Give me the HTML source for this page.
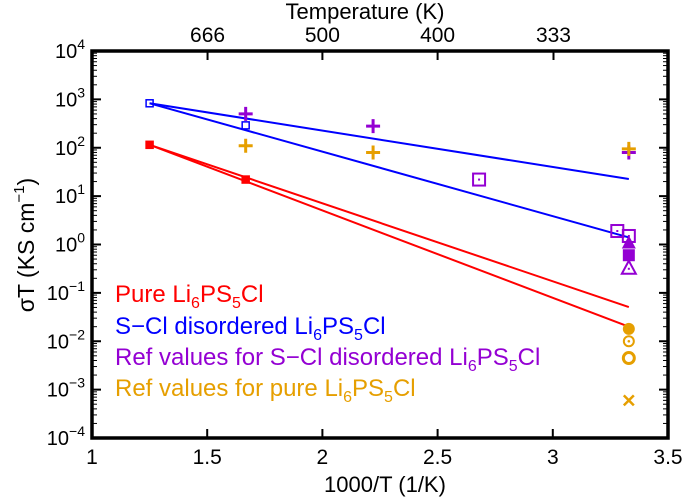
<!DOCTYPE html>
<html><head><meta charset="utf-8"><style>
body{margin:0;background:#fff}
svg text{font-family:"Liberation Sans",sans-serif}
</style></head><body>
<svg id="c" width="685" height="499" xmlns="http://www.w3.org/2000/svg"></svg>
<script>
const lineStarts=[1.25,1.25,1.25,1.25];
const lineEnds=[3.33,3.33,3.33,3.33];
const lineStartVals=[830,830,115,115];
const lineEndVals=[22.6,1.4,0.051,0.02];
const lineColors=['#0000ff','#0000ff','#ff0000','#ff0000'];
const lineNames=['blue-line-upper','blue-line-lower','red-line-upper','red-line-lower'];
const simX=[1.25,1.667,1.25,1.667];
const simY=[830,290,115,22];
const refPurpleX=[1.667,2.22,3.33,2.68,3.28,3.33,3.33,3.33,3.33];
const refPurpleY=[500,280,80,22,1.9,1.5,1.1,0.6,0.33];
const refPurpleShape=['plus','plus','plus','osq','osq','osq','ftri','fsq','otri'];
const refOrangeX=[1.667,2.22,3.33,3.33,3.33,3.33,3.33];
const refOrangeY=[110,80,95,0.018,0.01,0.0045,0.0006];
const refOrangeShape=['plus','plus','plus','fcirc','dcirc','ocirc','x'];
const xTicks=[1,1.5,2,2.5,3,3.5];
const xTickLabels=['1','1.5','2','2.5','3','3.5'];
const topTemps=[666,500,400,333];
const yExps=[4,3,2,1,0,-1,-2,-3,-4];

const L=92,R=668,T=51,B=438;
const sx=v=>L+(v-1)/(3.5-1)*(R-L);
const sy=v=>T+(4-Math.log10(v))/8*(B-T);
const svg=document.getElementById('c');
const NS='http://www.w3.org/2000/svg';
function mk(tag,attrs,parent){const e=document.createElementNS(NS,tag);for(const k in attrs)e.setAttribute(k,attrs[k]);(parent||svg).appendChild(e);return e;}

let fr=mk('rect',{x:L,y:T,width:R-L,height:B-T,fill:'none',stroke:'#000','stroke-width':3.5});



yExps.forEach(e=>{
  const y=sy(Math.pow(10,e));
  mk('line',{x1:L,x2:L+9,y1:y,y2:y,stroke:'#000','stroke-width':2});
  mk('line',{x1:R,x2:R-9,y1:y,y2:y,stroke:'#000','stroke-width':2});
  if(e>-4){for(let m=2;m<10;m++){const yy=sy(m*Math.pow(10,e-1));mk('line',{x1:L,x2:L+5,y1:yy,y2:yy,stroke:'#000','stroke-width':1});mk('line',{x1:R,x2:R-5,y1:yy,y2:yy,stroke:'#000','stroke-width':1});}}
  const t=mk('text',{x:L-7,y:y+7,'text-anchor':'end','font-size':20});
  
  
  t.innerHTML='10<tspan dy="-9" font-size="14">'+(e<0?'\u2212'+(-e):e)+'</tspan>';
});
xTicks.forEach((v,i)=>{
  const x=sx(v);
  mk('line',{x1:x,x2:x,y1:B,y2:B-9,stroke:'#000','stroke-width':2});
  const t=mk('text',{x:x,y:B+26,'text-anchor':'middle','font-size':21});
  
  
  t.textContent=xTickLabels[i];
});
topTemps.forEach(T0=>{
  const x=sx(1000/T0);
  mk('line',{x1:x,x2:x,y1:T,y2:T+9,stroke:'#000','stroke-width':2});
  const t=mk('text',{x:x,y:T-9,'text-anchor':'middle','font-size':21});
  
  
  t.textContent=T0;
});
let t1=mk('text',{x:385,y:492,'text-anchor':'middle','font-size':22});
t1.textContent='1000/T (1/K)';
let t2=mk('text',{x:365,y:19,'text-anchor':'middle','font-size':22});
t2.textContent='Temperature (K)';
let t3=mk('text',{x:0,y:0,'text-anchor':'middle','font-size':23,transform:'translate(34,245) rotate(-90)'});

t3.innerHTML='σT (KS cm<tspan dy="-10" font-size="15">−1</tspan><tspan dy="10">)</tspan>';

lineStarts.forEach((x0,i)=>{
  const l=mk('line',{x1:sx(x0),y1:sy(lineStartVals[i]),x2:sx(lineEnds[i]),y2:sy(lineEndVals[i]),stroke:lineColors[i],'stroke-width':2});
  
  
});
simX.forEach((x,i)=>{
  const c=i<2?'#0000ff':'#ff0000';
  const r=mk('rect',{x:sx(x)-3.5,y:sy(simY[i])-3.5,width:7,height:7,fill:i<2?'none':c,stroke:c,'stroke-width':1.5});
  
  
});
function marker(shape,x,y,c,name){
  const g=mk('g',{});
  
  
  const s=7;
  if(shape==='plus'){mk('path',{d:`M${x-s} ${y}H${x+s}M${x} ${y-s}V${y+s}`,stroke:c,'stroke-width':3},g);}
  else if(shape==='x'){mk('path',{d:`M${x-5} ${y-5}L${x+5} ${y+5}M${x-5} ${y+5}L${x+5} ${y-5}`,stroke:c,'stroke-width':2.5},g);}
  else if(shape==='osq'){mk('rect',{x:x-6,y:y-6,width:12,height:12,fill:'none',stroke:c,'stroke-width':2},g);mk('rect',{x:x-1,y:y-1,width:2,height:2,fill:c},g);}
  else if(shape==='fsq'){mk('rect',{x:x-6,y:y-6,width:12,height:12,fill:c},g);}
  else if(shape==='ftri'){mk('path',{d:`M${x} ${y-7}L${x+7} ${y+6}H${x-7}Z`,fill:c},g);}
  else if(shape==='otri'){mk('path',{d:`M${x} ${y-7}L${x+7} ${y+6}H${x-7}Z`,fill:'none',stroke:c,'stroke-width':2},g);mk('rect',{x:x-1,y:y,width:2,height:2,fill:c},g);}
  else if(shape==='fcirc'){mk('circle',{cx:x,cy:y,r:6,fill:c},g);}
  else if(shape==='dcirc'){mk('circle',{cx:x,cy:y,r:5,fill:'none',stroke:c,'stroke-width':2},g);mk('circle',{cx:x,cy:y,r:1.3,fill:c},g);}
  else if(shape==='ocirc'){mk('circle',{cx:x,cy:y,r:5.5,fill:'none',stroke:c,'stroke-width':3},g);}
}
refPurpleX.forEach((x,i)=>marker(refPurpleShape[i],sx(x),sy(refPurpleY[i]),'#9400d3','ref-purple-point'));
refOrangeX.forEach((x,i)=>marker(refOrangeShape[i],sx(x),sy(refOrangeY[i]),'#e69f00','ref-orange-point'));

const leg=[['Pure Li','#ff0000'],['S\u2212Cl disordered Li','#0000ff'],['Ref values for S\u2212Cl disordered Li','#9400d3'],['Ref values for pure Li','#e69f00']];
const legY=[302,334,365,396];
leg.forEach((d,i)=>{
  const t=mk('text',{x:115,y:legY[i],'font-size':24,fill:d[1]});
  
  
  t.innerHTML=d[0]+'<tspan dy="6" font-size="16">6</tspan><tspan dy="-6">PS</tspan><tspan dy="6" font-size="16">5</tspan><tspan dy="-6">Cl</tspan>';
});
</script>
</body></html>
